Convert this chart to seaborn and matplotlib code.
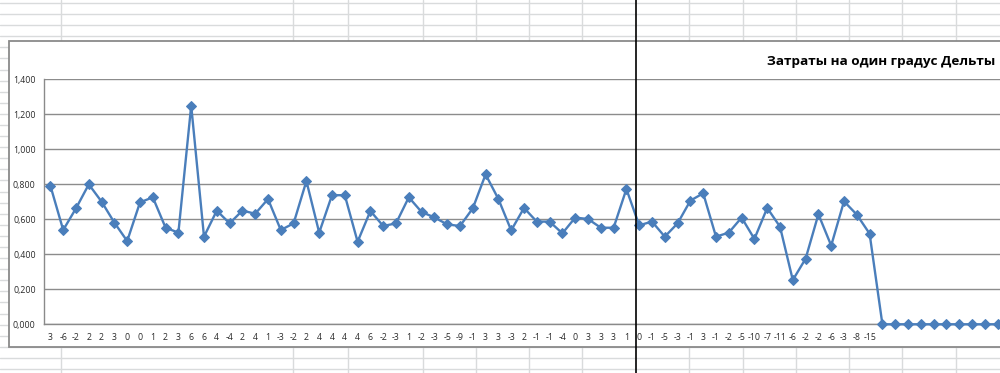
import numpy as np
import pandas as pd
import matplotlib
matplotlib.use("Agg")
import matplotlib.pyplot as plt
from matplotlib.lines import Line2D
from matplotlib.patches import Rectangle
import seaborn as sns

# ---------------- data ----------------
category_labels = [
    "3", "-6", "-2", "2", "2", "3", "0", "0", "1", "2",
    "3", "6", "6", "4", "-4", "2", "4", "1", "-3", "-2",
    "2", "4", "4", "4", "4", "6", "-2", "-3", "1", "-2",
    "-3", "-5", "-9", "-1", "3", "3", "-3", "2", "-1", "-1",
    "-4", "0", "3", "3", "3", "1", "0", "-1", "-5", "-3",
    "-1", "3", "-1", "-2", "-5", "-10", "-7", "-11", "-6", "-2",
    "-2", "-6", "-3", "-8", "-15",
    "", "", "", "", "", "", "", "", "", "",
]
cost_per_degree = [
    0.792, 0.539, 0.663, 0.800, 0.701, 0.581, 0.476, 0.697, 0.726, 0.552,
    0.524, 1.250, 0.501, 0.650, 0.577, 0.650, 0.632, 0.716, 0.539, 0.577,
    0.819, 0.524, 0.738, 0.738, 0.472, 0.648, 0.562, 0.577, 0.726, 0.642,
    0.611, 0.571, 0.562, 0.663, 0.857, 0.716, 0.537, 0.665, 0.587, 0.587,
    0.520, 0.610, 0.602, 0.552, 0.552, 0.773, 0.566, 0.587, 0.501, 0.577,
    0.707, 0.749, 0.501, 0.524, 0.610, 0.488, 0.665, 0.558, 0.253, 0.375,
    0.629, 0.450, 0.703, 0.627, 0.518,
    0.0, 0.0, 0.0, 0.0, 0.0, 0.0, 0.0, 0.0, 0.0, 0.0,
]
y_ticks = [0.0, 0.2, 0.4, 0.6, 0.8, 1.0, 1.2, 1.4]
title_text = "Затраты на один градус Дельты"

df = pd.DataFrame({"pos": np.arange(len(cost_per_degree)),
                   "value": cost_per_degree})

sns.set_theme(style="white")
plt.rcParams["font.family"] = ["Open Sans", "DejaVu Sans"]

W, H = 1000, 373
fig = plt.figure(figsize=(W / 100, H / 100), dpi=100)
fig.patch.set_facecolor("white")

# ---------------- spreadsheet background ----------------
bg = fig.add_axes([0, 0, 1, 1], zorder=-5)
bg.set_xlim(0, W)
bg.set_ylim(H, 0)
bg.axis("off")
cell_col = "#d9dbdc"
row_ys = [3 + 11.09 * k for k in range(34)]
col_xs = [61, 293, 348, 423, 476, 529, 582, 689, 743, 796, 849, 902, 956]
for y in row_ys:
    bg.plot([0, W], [y, y], color=cell_col, lw=1.0)
for x in col_xs:
    bg.plot([x, x], [0, H], color=cell_col, lw=1.0)
# chart object frame
bg.add_patch(Rectangle((9, 41), 1100, 306, facecolor="white",
                       edgecolor="#8a8a8a", lw=1.3, zorder=3))

# ---------------- plot area ----------------
left_px, right_px = 44, 44 + 75 * 12.8
top_px, bot_px = 79.4, 324.3
ax = fig.add_axes([left_px / W, (H - bot_px) / H,
                   (right_px - left_px) / W, (bot_px - top_px) / H], zorder=1)
ax.set_facecolor("none")

line_col = "#4a7ebb"
sns.lineplot(data=df, x="pos", y="value", ax=ax, color=line_col, lw=1.7,
             marker="D", markersize=4.6, markeredgecolor=line_col,
             markerfacecolor=line_col, zorder=4, clip_on=False)

ax.set_xlim(-0.5, len(cost_per_degree) - 0.5)
ax.set_ylim(0, 1.4)
ax.set_yticks(y_ticks)
ax.set_yticklabels([f"{v:.3f}".replace(".", ",") for v in y_ticks],
                   fontsize=6.3, color="#2a2a2a")
ax.set_xticks(np.arange(len(category_labels)))
ax.set_xticklabels(category_labels, fontsize=6.3, color="#2a2a2a")
ax.set_xticks(np.arange(len(category_labels) + 1) - 0.5, minor=True)
ax.tick_params(axis="x", which="major", length=0, pad=6.5)
ax.tick_params(axis="x", which="minor", length=3, width=0.8,
               color="#8a8a8a", direction="inout")
ax.tick_params(axis="y", which="major", length=2.5, width=0.8,
               color="#8a8a8a", direction="out", pad=3.5)
ax.set_xlabel("")
ax.set_ylabel("")
ax.grid(axis="y", color="#8c8c8c", lw=1.0)
ax.grid(axis="x", visible=False)
ax.set_axisbelow(True)
for s in ["top", "right"]:
    ax.spines[s].set_visible(False)
for s in ["left", "bottom"]:
    ax.spines[s].set_color("#8a8a8a")
    ax.spines[s].set_linewidth(1.0)

# title
fig.text(995 / W, (H - 61) / H, title_text, ha="right", va="center",
         fontsize=9.7, fontweight="bold", color="black")

# black vertical divider line over everything
fig.add_artist(Line2D([636 / W, 636 / W], [0, 1], color="black", lw=1.2,
                      transform=fig.transFigure, zorder=10))

fig.savefig("out.png", dpi=100)
